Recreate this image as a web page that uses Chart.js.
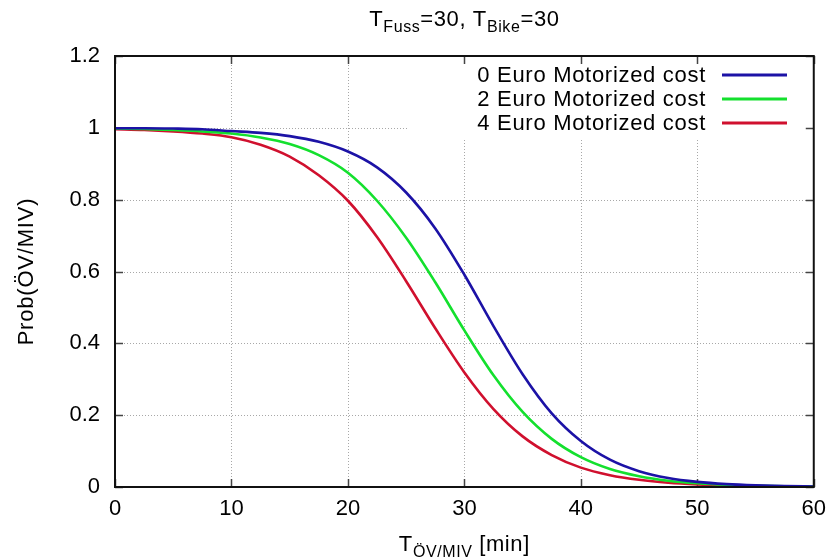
<!DOCTYPE html>
<html>
<head>
<meta charset="utf-8">
<script src="https://cdn.jsdelivr.net/npm/chart.js@4"></script>
<style>
  html, body { margin: 0; padding: 0; background: #fff; }
  #wrap { width: 835px; height: 560px; }
</style>
</head>
<body>
<div id="wrap"><canvas id="probChart" width="835" height="560"></canvas></div>
<script>
/* data */
const travelTime = [0, 2.5, 5, 7.5, 10, 12.5, 15, 17.5, 20, 22.5, 25, 27.5, 30,
    32.5, 35, 37.5, 40, 42.5, 45, 47.5, 50, 52.5, 55, 57.5, 60];
const prob0Euro = [0.999, 0.999, 0.998, 0.996, 0.991, 0.986, 0.977, 0.961, 0.934, 0.89, 0.82, 0.72, 0.591,
    0.448, 0.314, 0.205, 0.128, 0.076, 0.044, 0.025, 0.0143, 0.0081, 0.0046, 0.0026, 0.0015];
const prob2Euro = [0.998, 0.997, 0.994, 0.99, 0.984, 0.973, 0.955, 0.924, 0.875, 0.797, 0.694, 0.57, 0.436,
    0.311, 0.209, 0.134, 0.083, 0.05, 0.03, 0.0176, 0.0104, 0.0061, 0.0036, 0.0021, 0.0012];
const prob4Euro = [0.996, 0.994, 0.99, 0.984, 0.974, 0.953, 0.92, 0.868, 0.797, 0.696, 0.573, 0.442, 0.319,
    0.217, 0.141, 0.089, 0.054, 0.033, 0.02, 0.0118, 0.007, 0.0042, 0.0025, 0.0015, 0.0009];
const seriesNames = ["0 Euro Motorized cost", "2 Euro Motorized cost", "4 Euro Motorized cost"];
const seriesColors = ["#1c12a6", "#14e02e", "#d0102e"];
const xTicks = [0, 10, 20, 30, 40, 50, 60];
const yTicks = [0, 0.2, 0.4, 0.6, 0.8, 1, 1.2];

const FONT = "Liberation Sans, Arial, sans-serif";

function toPoints(ys) {
    return travelTime.map((x, i) => ({ x: x, y: ys[i] }));
}

// text with a subscript part
function subText(ctx, parts, x, y) {
    ctx.letterSpacing = "0.6px";
    let w = 0;
    parts.forEach(p => {
        ctx.font = (p.sub ? "16px " : "22px ") + FONT;
        w += ctx.measureText(p.t).width;
    });
    let cx = x - w / 2;
    ctx.textAlign = "left";
    ctx.textBaseline = "alphabetic";
    parts.forEach(p => {
        ctx.font = (p.sub ? "16px " : "22px ") + FONT;
        ctx.fillText(p.t, cx, p.sub ? y + 6 : y);
        cx += ctx.measureText(p.t).width;
    });
    ctx.letterSpacing = "0px";
}

const gnuFrame = {
    id: "gnuFrame",
    beforeDatasetsDraw(chart) {
        const { ctx, chartArea: a, scales } = chart;
        ctx.save();
        // dotted grid
        ctx.strokeStyle = "#a8a8a8";
        ctx.lineWidth = 1;
        ctx.setLineDash([1, 2]);
        xTicks.slice(1, -1).forEach(v => {
            const px = Math.round(scales.x.getPixelForValue(v)) + 0.5;
            ctx.beginPath(); ctx.moveTo(px, a.top); ctx.lineTo(px, a.bottom); ctx.stroke();
        });
        yTicks.slice(1, -1).forEach(v => {
            const py = Math.round(scales.y.getPixelForValue(v)) + 0.5;
            ctx.beginPath(); ctx.moveTo(a.left, py); ctx.lineTo(a.right, py); ctx.stroke();
        });
        ctx.setLineDash([]);

        // legend box (hides the grid)
        ctx.fillStyle = "#fff";
        ctx.fillRect(407, a.top + 1, a.right - 407 - 6, 82);
        ctx.font = "22px " + FONT;
        ctx.letterSpacing = "0.7px";
        ctx.textAlign = "right";
        ctx.textBaseline = "middle";
        seriesNames.forEach((name, i) => {
            const ly = 75 + i * 24;
            ctx.fillStyle = "#000";
            ctx.fillText(name, 706, ly + 1);
            ctx.strokeStyle = seriesColors[i];
            ctx.lineWidth = 3;
            ctx.beginPath(); ctx.moveTo(722, ly); ctx.lineTo(787, ly); ctx.stroke();
        });
        ctx.letterSpacing = "0px";

        // inward tick marks on all four sides
        ctx.strokeStyle = "#444";
        ctx.lineWidth = 1.5;
        xTicks.forEach(v => {
            const px = Math.round(scales.x.getPixelForValue(v)) + 0.5;
            ctx.beginPath();
            ctx.moveTo(px, a.bottom); ctx.lineTo(px, a.bottom - 8);
            ctx.moveTo(px, a.top); ctx.lineTo(px, a.top + 8);
            ctx.stroke();
        });
        yTicks.forEach(v => {
            const py = Math.round(scales.y.getPixelForValue(v)) + 0.5;
            ctx.beginPath();
            ctx.moveTo(a.left, py); ctx.lineTo(a.left + 8, py);
            ctx.moveTo(a.right, py); ctx.lineTo(a.right - 8, py);
            ctx.stroke();
        });
        ctx.restore();
    },
    afterDatasetsDraw(chart) {
        const { ctx, chartArea: a } = chart;
        ctx.save();
        ctx.strokeStyle = "#111";
        ctx.lineWidth = 2;
        ctx.strokeRect(a.left, a.top, a.right - a.left, a.bottom - a.top);

        ctx.fillStyle = "#000";
        const cx = (a.left + a.right) / 2;
        subText(ctx, [{ t: "T" }, { t: "Fuss", sub: true }, { t: "=30, T" }, { t: "Bike", sub: true }, { t: "=30" }], cx, 26);
        subText(ctx, [{ t: "T" }, { t: "ÖV/MIV", sub: true }, { t: " [min]" }], cx, 551);

        ctx.translate(27, (a.top + a.bottom) / 2);
        ctx.rotate(-Math.PI / 2);
        ctx.font = "22px " + FONT;
        ctx.letterSpacing = "0.8px";
        ctx.textAlign = "center";
        ctx.textBaseline = "middle";
        ctx.fillText("Prob(ÖV/MIV)", 0, 0);
        ctx.restore();
    }
};

const ctx = document.getElementById("probChart");

new Chart(ctx, {
    type: "line",
    data: {
        datasets: [prob0Euro, prob2Euro, prob4Euro].map((ys, i) => ({
            label: seriesNames[i],
            data: toPoints(ys),
            borderColor: seriesColors[i],
            borderWidth: 2.6,
            pointRadius: 0,
            cubicInterpolationMode: "monotone",
            fill: false
        }))
    },
    options: {
        responsive: false,
        animation: false,
        layout: { padding: { top: 56, right: 21, left: 0, bottom: 0 } },
        plugins: {
            legend: { display: false },
            title: { display: false },
            tooltip: { enabled: false }
        },
        scales: {
            x: {
                type: "linear",
                min: 0, max: 60,
                afterBuildTicks: s => { s.ticks = xTicks.map(v => ({ value: v })); },
                afterFit: s => { s.height = 73; },
                grid: { display: false, drawTicks: false },
                border: { display: false },
                ticks: { color: "#000", font: { size: 22, family: FONT }, padding: 9, maxRotation: 0 }
            },
            y: {
                min: 0, max: 1.2,
                afterBuildTicks: s => { s.ticks = yTicks.map(v => ({ value: v })); },
                afterFit: s => { s.width = 115; },
                grid: { display: false, drawTicks: false },
                border: { display: false },
                ticks: {
                    color: "#000", font: { size: 22, family: FONT }, padding: 15,
                    callback: v => String(Math.round(v * 10) / 10)
                }
            }
        }
    },
    plugins: [gnuFrame]
});
</script>
</body>
</html>
